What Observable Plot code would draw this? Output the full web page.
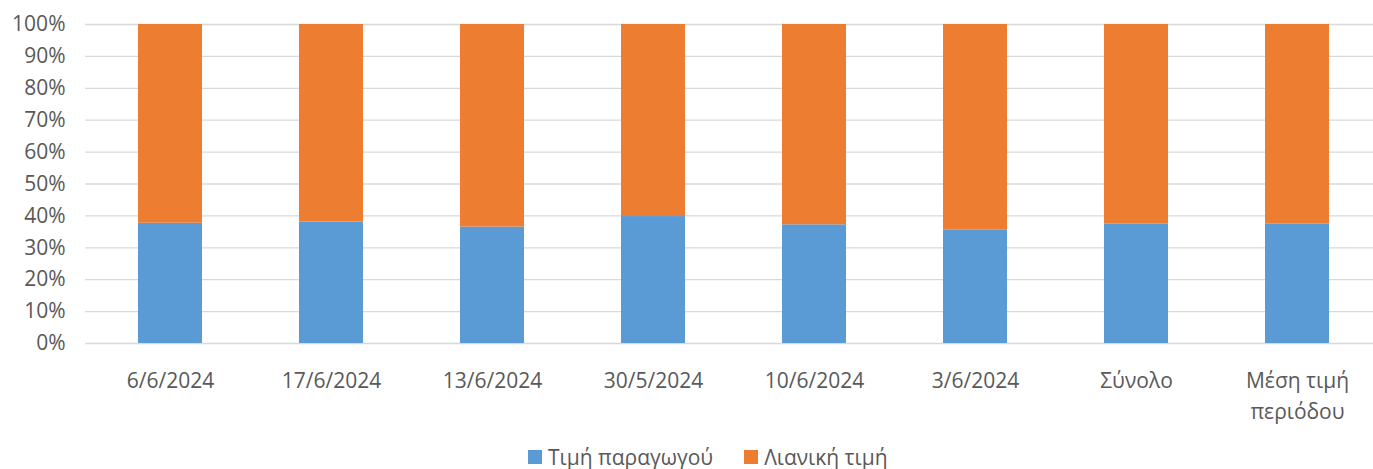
<!DOCTYPE html>
<html>
<head>
<meta charset="utf-8">
<script src="https://cdn.jsdelivr.net/npm/d3@7"></script>
<script src="https://cdn.jsdelivr.net/npm/@observablehq/plot@0.6"></script>
<style>
  body { margin: 0; background: #fff; font-family: "Open Sans", sans-serif; }
  #chart { width: 1373px; }
  .lg-swatch { margin-right: 31px !important; }
  .lg-swatch > svg { margin-right: 6px !important; }
</style>
</head>
<body>
<div id="chart"></div>
<script>
const categories = ["6/6/2024", "17/6/2024", "13/6/2024", "30/5/2024", "10/6/2024", "3/6/2024", "Σύνολο", "Μέση τιμή\nπεριόδου"];
const producerShare = [0.377, 0.381, 0.365, 0.398, 0.372, 0.355, 0.375, 0.375];
const retailShare   = [0.623, 0.619, 0.635, 0.602, 0.628, 0.645, 0.625, 0.625];
const seriesNames = ["Τιμή παραγωγού", "Λιανική τιμή"];
const seriesColors = ["#5B9BD5", "#ED7D31"];
const yTicks = [0, 0.1, 0.2, 0.3, 0.4, 0.5, 0.6, 0.7, 0.8, 0.9, 1.0];

const rows = [];
categories.forEach((c, i) => {
  rows.push({cat: c, series: seriesNames[0], value: producerShare[i]});
  rows.push({cat: c, series: seriesNames[1], value: retailShare[i]});
});

const chart = Plot.plot({
  width: 1373,
  height: 440,
  marginLeft: 85,
  marginRight: 0,
  marginTop: 24,
  marginBottom: 97,
  style: {fontFamily: "'Open Sans', sans-serif", fontSize: "21px", color: "#595959", background: "#fff"},
  x: {type: "band", domain: categories, range: [87, 1380], paddingInner: 0.6, paddingOuter: 0.3, align: 0.5, label: null},
  y: {domain: [0, 1], label: null},
  color: {domain: seriesNames, range: seriesColors},
  marks: [
    Plot.ruleY(yTicks, {stroke: "#D9D9D9", strokeWidth: 1.3}),
    Plot.barY(rows, Plot.stackY({x: "cat", y: "value", fill: "series", order: seriesNames})),
    Plot.axisY({ticks: yTicks, tickFormat: d => Math.round(d * 100) + "%", tickSize: 0, tickPadding: 20, fontSize: 21, fill: "#595959"}),
    Plot.axisX({tickSize: 0, tickPadding: 22, fontSize: 21, lineHeight: 1.5, fill: "#595959"})
  ]
});

const legend = Plot.legend({
  color: {domain: seriesNames, range: seriesColors},
  legend: "swatches",
  swatchSize: 14,
  className: "lg",
  style: {fontFamily: "'Open Sans', sans-serif", fontSize: "21px", color: "#595959", marginLeft: "528px", marginTop: "0px"}
});

const root = document.getElementById("chart");
root.appendChild(chart);
root.appendChild(legend);
</script>
</body>
</html>
